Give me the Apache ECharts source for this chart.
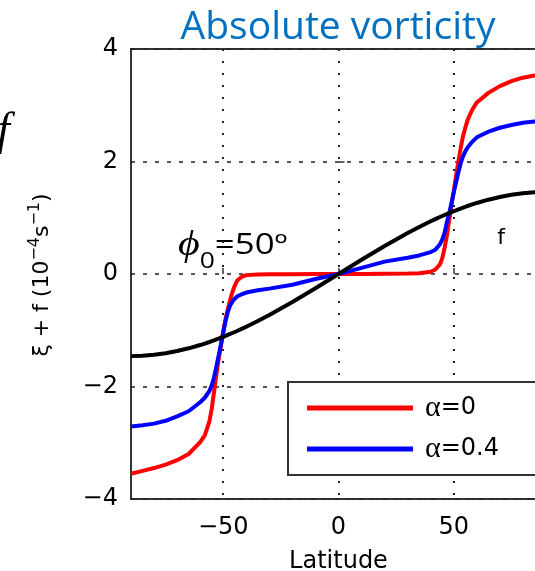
<!DOCTYPE html>
<html>
<head>
<meta charset="utf-8">
<script src="https://cdn.jsdelivr.net/npm/echarts@6/dist/echarts.min.js"></script>
<style>
  html, body { margin: 0; padding: 0; background: #fff; }
  #chart { width: 535px; height: 571px; }
</style>
</head>
<body>
<div id="chart"></div>
<script>
// Latitude (degrees) at which the profiles are sampled
const latitude = [
  -90, -85, -80, -75, -70, -65, -60, -58, -56, -55, -54, -53, -52, -51, -50,
  -49, -48, -47, -46, -45, -44, -42, -40, -35, -30, -20, -10, 0,
  10, 20, 30, 35, 40, 42, 44, 45, 46, 47, 48, 49, 50, 51, 52, 53, 54, 55, 56,
  58, 60, 65, 70, 75, 80, 85, 90
];

// Absolute vorticity xi + f (1e-4 s^-1), alpha = 0
const vortAlpha0 = [
  -3.55, -3.50, -3.45, -3.39, -3.31, -3.20, -2.99, -2.87, -2.62, -2.40, -2.10, -1.80, -1.52, -1.28, -1.03,
  -0.80, -0.62, -0.46, -0.32, -0.21, -0.12, -0.05, -0.02, -0.01, -0.005, -0.003, -0.001, 0,
  0.002, 0.004, 0.008, 0.015, 0.04, 0.08, 0.17, 0.28, 0.46, 0.68, 0.95, 1.22, 1.48, 1.75, 2.00, 2.24, 2.45, 2.60, 2.74,
  2.92, 3.05, 3.22, 3.34, 3.43, 3.49, 3.53, 3.56
];

// Absolute vorticity xi + f (1e-4 s^-1), alpha = 0.4
const vortAlpha04 = [
  -2.71, -2.69, -2.66, -2.61, -2.53, -2.44, -2.28, -2.20, -2.08, -1.98, -1.84, -1.65, -1.45, -1.25, -1.04,
  -0.84, -0.67, -0.56, -0.49, -0.44, -0.40, -0.36, -0.33, -0.29, -0.26, -0.19, -0.09, 0,
  0.11, 0.22, 0.29, 0.33, 0.39, 0.43, 0.53, 0.61, 0.73, 0.92, 1.08, 1.26, 1.45, 1.63, 1.81, 1.97, 2.09, 2.18, 2.25,
  2.35, 2.43, 2.53, 2.60, 2.65, 2.69, 2.71, 2.72
];

// Planetary vorticity f (1e-4 s^-1)
const planetaryF = [
  -1.460, -1.452, -1.436, -1.408, -1.370, -1.321, -1.263, -1.236, -1.209, -1.194, -1.180, -1.164, -1.149, -1.133, -1.117,
  -1.100, -1.083, -1.066, -1.049, -1.031, -1.013, -0.976, -0.937, -0.836, -0.729, -0.499, -0.253, 0,
  0.253, 0.499, 0.729, 0.836, 0.937, 0.976, 1.013, 1.031, 1.049, 1.066, 1.083, 1.100, 1.117, 1.133, 1.149, 1.164, 1.180, 1.194, 1.209,
  1.236, 1.263, 1.321, 1.370, 1.408, 1.436, 1.452, 1.460
];

const seriesNames = ['α=0', 'α=0.4', 'f'];
const xTickValues = [-50, 0, 50];
const yRange = [-4, 4];
const yStep = 2;

const pairs = (vals) => latitude.map((lat, i) => [lat, vals[i]]);
const minus = (v) => (v < 0 ? '\u2212' + Math.abs(v) : String(v));

const chart = echarts.init(document.getElementById('chart'), null, { renderer: 'canvas' });

const tickFont = { fontFamily: 'DejaVu Sans', fontSize: 24, color: '#000' };

chart.setOption({
  animation: false,
  backgroundColor: '#fff',
  grid: {
    left: 131, top: 49, width: 415, height: 450,
    outerBoundsMode: 'none', containLabel: false,
    show: true, borderColor: '#333', borderWidth: 2, backgroundColor: 'transparent'
  },
  xAxis: {
    type: 'value', min: -90, max: 90,
    name: 'Latitude', nameLocation: 'middle', nameGap: 51,
    nameTextStyle: { fontFamily: 'DejaVu Sans', fontSize: 24, color: '#000' },
    axisLine: { show: false },
    axisTick: { inside: true, length: 6, customValues: xTickValues, lineStyle: { color: '#333', width: 1.5 } },
    axisLabel: Object.assign({ margin: 17, customValues: xTickValues, formatter: minus }, tickFont),
    splitLine: { show: true, lineStyle: { color: '#222', width: 2, type: [2, 10] } }
  },
  yAxis: {
    type: 'value', min: yRange[0], max: yRange[1], interval: yStep,
    axisLine: { show: false },
    axisTick: { inside: true, length: 6, lineStyle: { color: '#333', width: 1.5 } },
    axisLabel: Object.assign({ margin: 13, formatter: minus }, tickFont),
    splitLine: { show: true, lineStyle: { color: '#222', width: 1.5, type: [4, 8] } }
  },
  legend: {
    data: [seriesNames[0], seriesNames[1]],
    orient: 'vertical', left: 288, top: 382,
    padding: [11, 60, 11, 19],
    itemGap: 11, itemWidth: 106, itemHeight: 5, icon: 'rect',
    backgroundColor: '#fff', borderColor: '#333', borderWidth: 2, borderRadius: 0,
    formatter: (name) => '{g|α}{t|' + name.slice(1) + '}',
    textStyle: {
      padding: [0, 0, 0, 7],
      rich: {
        g: { fontFamily: 'Liberation Serif', fontSize: 30, color: '#000', lineHeight: 30 },
        t: { fontFamily: 'DejaVu Sans', fontSize: 24, color: '#000', lineHeight: 30 }
      }
    }
  },
  series: [
    {
      name: seriesNames[0], type: 'line', data: pairs(vortAlpha0),
      showSymbol: false, smooth: false,
      lineStyle: { color: '#ff0000', width: 4, join: 'round' }, itemStyle: { color: '#ff0000' }
    },
    {
      name: seriesNames[1], type: 'line', data: pairs(vortAlpha04),
      showSymbol: false, smooth: false,
      lineStyle: { color: '#0000ff', width: 4, join: 'round' }, itemStyle: { color: '#0000ff' }
    },
    {
      name: seriesNames[2], type: 'line', data: pairs(planetaryF),
      showSymbol: false, smooth: false,
      lineStyle: { color: '#000', width: 4, join: 'round' }, itemStyle: { color: '#000' }
    }
  ],
  graphic: [
    {
      type: 'text', x: 338, y: 28,
      style: {
        text: 'Absolute vorticity', fill: '#0070C0',
        font: '39px "Open Sans"', textAlign: 'center', textVerticalAlign: 'middle'
      }
    },
    {
      type: 'text', x: -3, y: 132,
      style: {
        text: 'f', fill: '#000',
        font: 'italic 46px "Liberation Serif"', textAlign: 'left', textVerticalAlign: 'middle'
      }
    },
    {
      // y-axis title, rotated to read bottom-to-top
      type: 'text', x: 42, y: 275, rotation: Math.PI / 2,
      style: {
        text: '{a|ξ + f (10}{s|\u22124}{a|s}{s|\u22121}{a|)}',
        textAlign: 'center', textVerticalAlign: 'middle',
        rich: {
          a: { fontFamily: 'DejaVu Sans', fontSize: 22, fill: '#000', lineHeight: 30 },
          s: { fontFamily: 'DejaVu Sans', fontSize: 16, fill: '#000', verticalAlign: 'top', lineHeight: 18 }
        }
      }
    },
    {
      type: 'text', x: 178, y: 246, scaleX: 1.2,
      style: {
        text: '{p|ϕ}{s|0}{t|=50º}',
        textAlign: 'left', textVerticalAlign: 'middle',
        rich: {
          p: { fontFamily: 'Liberation Serif', fontStyle: 'italic', fontSize: 35, fill: '#000', lineHeight: 54 },
          s: { fontFamily: 'Open Sans', fontSize: 22, fill: '#000', verticalAlign: 'bottom', lineHeight: 22 },
          t: { fontFamily: 'Open Sans', fontSize: 29, fill: '#000', lineHeight: 54 }
        }
      }
    },
    {
      type: 'text', x: 501, y: 238,
      style: {
        text: 'f', fill: '#000',
        font: '22px "DejaVu Sans"', textAlign: 'center', textVerticalAlign: 'middle'
      }
    }
  ]
});
</script>
</body>
</html>
